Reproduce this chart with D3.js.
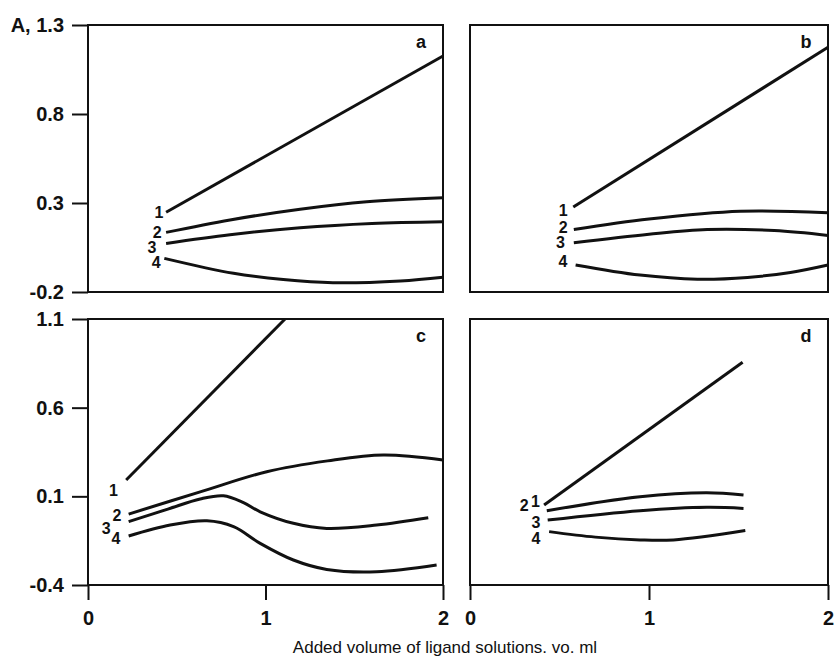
<!DOCTYPE html>
<html>
<head>
<meta charset="utf-8">
<script src="https://cdn.jsdelivr.net/npm/d3@7"></script>
<style>
  body { margin: 0; background: #fff; }
  text { font-family: "Liberation Sans", Arial, sans-serif; fill: #111; }
  .tick text { font-size: 20px; font-weight: bold; fill: #111; }
  .tick line { stroke: #111; stroke-width: 2; }
  .curve { fill: none; stroke: #111; stroke-width: 3; stroke-linecap: butt; }
  .frame { fill: none; stroke: #111; stroke-width: 2; }
</style>
</head>
<body>
<div class="chart"></div>
<script>
// panel ids and y ranges
var panels = ["a", "b", "c", "d"];
var yTicksTop = [-0.2, 0.3, 0.8, 1.3];
var yTicksBottom = [-0.4, 0.1, 0.6, 1.1];
var xTicks = [0, 1, 2];

// curve values: [x, A]
var curveA1 = [[0.44, 0.248], [2.0, 1.126]];
var curveA2 = [[0.44, 0.135], [0.8, 0.205], [1.195, 0.265], [1.57, 0.307], [2.0, 0.33]];
var curveA3 = [[0.44, 0.073], [0.8, 0.122], [1.195, 0.161], [1.6, 0.185], [2.0, 0.195]];
var curveA4 = [[0.43, -0.011], [0.82, -0.095], [1.1, -0.13], [1.38, -0.148], [1.76, -0.138], [2.0, -0.117]];

var curveB1 = [[0.577, 0.278], [2.0, 1.175]];
var curveB2 = [[0.58, 0.151], [1.0, 0.21], [1.51, 0.254], [2.0, 0.245]];
var curveB3 = [[0.58, 0.077], [1.0, 0.125], [1.325, 0.151], [1.7, 0.145], [2.0, 0.118]];
var curveB4 = [[0.59, -0.048], [0.95, -0.105], [1.27, -0.128], [1.55, -0.118], [1.79, -0.09], [2.0, -0.048]];

var curveC1 = [[0.215, 0.192], [1.11, 1.1]];
var curveC2 = [[0.229, 0.0], [0.632, 0.125], [1.007, 0.239], [1.35, 0.3], [1.664, 0.333], [2.0, 0.305]];
var curveC3 = [[0.229, -0.043], [0.45, 0.028], [0.632, 0.085], [0.763, 0.103], [0.876, 0.064],
  [0.97, 0.013], [1.157, -0.052], [1.345, -0.081], [1.626, -0.062], [1.917, -0.021]];
var curveC4 = [[0.229, -0.124], [0.463, -0.062], [0.67, -0.038], [0.82, -0.071], [0.97, -0.165],
  [1.157, -0.259], [1.345, -0.312], [1.626, -0.325], [1.964, -0.287]];

var curveD1 = [[0.414, 0.051], [1.523, 0.856]];
var curveD2 = [[0.429, 0.019], [0.95, 0.098], [1.323, 0.12], [1.528, 0.107]];
var curveD3 = [[0.434, -0.034], [0.95, 0.019], [1.323, 0.038], [1.528, 0.032]];
var curveD4 = [[0.442, -0.099], [0.7, -0.13], [0.95, -0.146], [1.137, -0.146], [1.538, -0.093]];

// curve number label anchors [x, A]
var labelsA = [[0.40, 0.249], [0.39, 0.137], [0.36, 0.053], [0.384, -0.031]];
var labelsB = [[0.52, 0.259], [0.52, 0.164], [0.506, 0.077], [0.519, -0.025]];
var labelsC = [[0.144, 0.136], [0.163, -0.009], [0.103, -0.081], [0.158, -0.137]];
var labelsD = [[0.365, 0.074], [0.303, 0.050], [0.368, -0.046], [0.368, -0.139]];

var curveSets = {
  a: [curveA1, curveA2, curveA3, curveA4],
  b: [curveB1, curveB2, curveB3, curveB4],
  c: [curveC1, curveC2, curveC3, curveC4],
  d: [curveD1, curveD2, curveD3, curveD4]
};
var labelSets = { a: labelsA, b: labelsB, c: labelsC, d: labelsD };

var svgWidth = 839, svgHeight = 668;
var svg = d3.select(".chart").append("svg")
  .attr("width", svgWidth)
  .attr("height", svgHeight);

// plot boxes
var boxes = {
  a: { x0: 88, x1: 443, y0: 25, y1: 292 },
  b: { x0: 470, x1: 828, y0: 25, y1: 292 },
  c: { x0: 88, x1: 443, y0: 319, y1: 585 },
  d: { x0: 470, x1: 828, y0: 319, y1: 585 }
};

// plain hyphen for negatives, like the original
var fmt = d => d3.format(".1f")(d).replace("\u2212", "-");

panels.forEach(function(p, i) {
  var box = boxes[p];
  var top = i < 2;
  var yDom = top ? [-0.2, 1.3] : [-0.4, 1.1];
  var x = d3.scaleLinear().domain([0, 2]).range([box.x0, box.x1]);
  var y = d3.scaleLinear().domain(yDom).range([box.y1, box.y0]);
  var g = svg.append("g");

  // left axis only on the left column
  if (i % 2 === 0) {
    var yAxis = d3.axisLeft(y)
      .tickValues(top ? yTicksTop : yTicksBottom)
      .tickSize(16)
      .tickPadding(8)
      .tickFormat(d => (top && d === 1.3) ? "A, " + fmt(d) : fmt(d));
    g.append("g").attr("transform", `translate(${box.x0},0)`).call(yAxis)
      .call(s => s.select(".domain").remove());
  }
  // bottom axis on lower row
  if (!top) {
    var xAxis = d3.axisBottom(x)
      .tickValues(xTicks)
      .tickSize(15)
      .tickPadding(11)
      .tickFormat(d3.format("d"));
    g.append("g").attr("transform", `translate(0,${box.y1})`).call(xAxis)
      .call(s => s.select(".domain").remove());
  }

  g.append("rect").attr("class", "frame")
    .attr("x", box.x0).attr("y", box.y0)
    .attr("width", box.x1 - box.x0).attr("height", box.y1 - box.y0);

  var line = d3.line()
    .x(d => x(d[0]))
    .y(d => y(d[1]))
    .curve(d3.curveCatmullRom.alpha(0.5));

  g.selectAll(".curve")
    .data(curveSets[p])
    .enter()
    .append("path")
    .attr("class", "curve")
    .attr("d", line);

  g.selectAll(".lbl")
    .data(labelSets[p])
    .enter()
    .append("text")
    .attr("class", "lbl")
    .attr("x", d => x(d[0]))
    .attr("y", d => y(d[1]))
    .attr("dy", "0.36em")
    .attr("text-anchor", "middle")
    .attr("font-size", 16)
    .attr("font-weight", "bold")
    .text((d, k) => k + 1);

  g.append("text")
    .attr("x", box.x1 - 22)
    .attr("y", box.y0 + 18)
    .attr("dy", "0.3em")
    .attr("text-anchor", "middle")
    .attr("font-size", 18)
    .attr("font-weight", "bold")
    .text(p);
});

svg.append("text")
  .attr("x", 445)
  .attr("y", 653)
  .attr("text-anchor", "middle")
  .attr("font-size", 17)
  .text("Added volume of ligand solutions. vo. ml");
</script>
</body>
</html>
